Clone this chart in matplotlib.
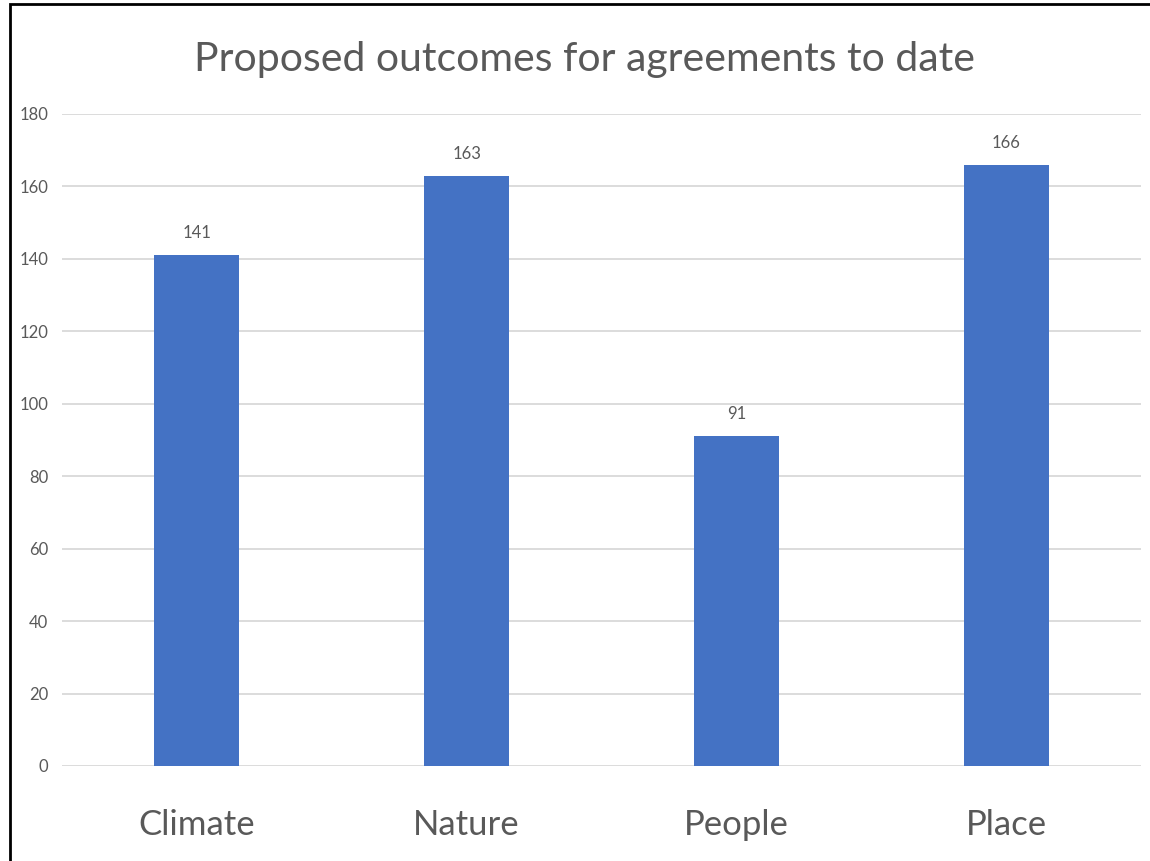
import matplotlib.pyplot as plt
from matplotlib import patches

categories = ["Climate", "Nature", "People", "Place"]
values = [141, 163, 91, 166]
y_ticks = [0, 20, 40, 60, 80, 100, 120, 140, 160, 180]

TEXT_COLOR = "#595959"
BAR_COLOR = "#4472C4"
GRID_COLOR = "#D9D9D9"

plt.rcParams["font.family"] = ["Lato", "DejaVu Sans"]

fig = plt.figure(figsize=(11.5, 8.61), dpi=100)
ax = fig.add_axes([62 / 1150, 1 - 766 / 861, 1079 / 1150, 652 / 861])

x = list(range(len(categories)))
bars = ax.bar(x, values, width=0.315, color=BAR_COLOR, zorder=3)
for b, v in zip(bars, values):
    ax.annotate(str(v), (b.get_x() + b.get_width() / 2, v), xytext=(0, 10),
                textcoords="offset points", ha="center", va="bottom",
                fontsize=12, color=TEXT_COLOR)

ax.set_xlim(-0.5, len(categories) - 0.5)
ax.set_ylim(0, 180)
ax.set_yticks(y_ticks)
ax.set_xticks(x)
ax.set_xticklabels(categories, fontsize=25, color=TEXT_COLOR)
ax.tick_params(axis="y", labelsize=12, labelcolor=TEXT_COLOR, length=0, pad=10)
ax.tick_params(axis="x", length=0, pad=31)
ax.grid(axis="y", color=GRID_COLOR, linewidth=1.3, zorder=0)
for s in ax.spines.values():
    s.set_visible(False)

fig.text(585 / 1150, 1 - 59 / 861, "Proposed outcomes for agreements to date",
         ha="center", va="center", fontsize=29.5, color=TEXT_COLOR)

# chart border (left and top edges visible)
fig.patches.append(patches.Rectangle((10 / 1150, -0.1), 1.2, 1 - 4 / 861 + 0.1,
                                     transform=fig.transFigure, fill=False,
                                     edgecolor="black", linewidth=2))

fig.savefig("out.png", dpi=100)
